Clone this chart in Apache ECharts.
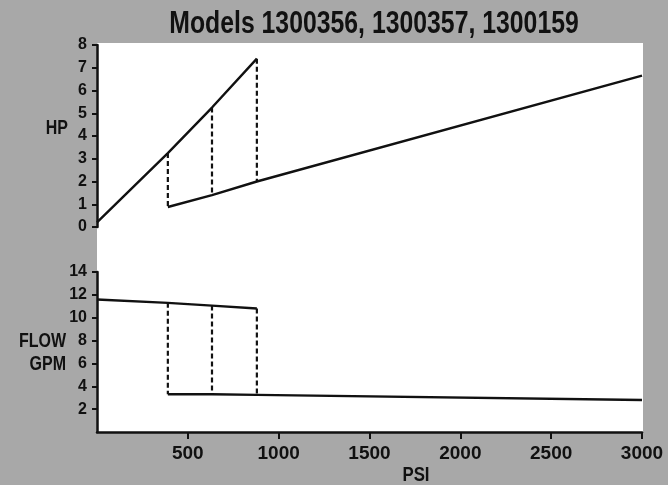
<!DOCTYPE html>
<html><head><meta charset="utf-8">
<script src="https://cdn.jsdelivr.net/npm/echarts@6/dist/echarts.min.js"></script>
<style>html,body{margin:0;padding:0;background:#a8a8a8;} #c{width:668px;height:485px;}</style>
</head><body><div id="c"></div>
<script>
const titleText = 'Models 1300356, 1300357, 1300159';
const xName = 'PSI';
const hpName = 'HP';
const flowName = 'FLOW\nGPM';
const psiMin = 0, psiMax = 3000, psiStep = 500;
const hpMin = 0, hpMax = 8, hpStep = 1;
const flowMin = 0, flowMax = 14, flowStep = 2;

const hpHighPsi = [0, 390, 633, 880];
const hpHighVal = [0.2, 3.25, 5.25, 7.4];
const hpLowPsi = [390, 633, 880, 3000];
const hpLowVal = [0.88, 1.4, 2.0, 6.65];

const flowHighPsi = [0, 390, 633, 880];
const flowHighVal = [11.6, 11.3, 11.06, 10.8];
const flowLowPsi = [390, 633, 880, 3000];
const flowLowVal = [3.3, 3.3, 3.25, 2.8];

const switchPsi = [390, 633, 880];

const FONT = "'Liberation Sans', Arial, sans-serif";
const INK = '#111111';
const NARROW = 0.8;

function pairs(xs, ys) { return xs.map((x, i) => [x, ys[i]]); }
function at(xs, ys, x) { return ys[xs.indexOf(x)]; }

const lineStyle = { color: INK, width: 2.4 };
const dashStyle = { color: INK, width: 2.2, type: [5, 3] };

const series = [
  { type: 'line', xAxisIndex: 0, yAxisIndex: 0, data: pairs(hpHighPsi, hpHighVal), showSymbol: false, lineStyle: lineStyle, silent: true },
  { type: 'line', xAxisIndex: 0, yAxisIndex: 0, data: pairs(hpLowPsi, hpLowVal), showSymbol: false, lineStyle: lineStyle, silent: true },
  { type: 'line', xAxisIndex: 1, yAxisIndex: 1, data: pairs(flowHighPsi, flowHighVal), showSymbol: false, lineStyle: lineStyle, silent: true },
  { type: 'line', xAxisIndex: 1, yAxisIndex: 1, data: pairs(flowLowPsi, flowLowVal), showSymbol: false, lineStyle: lineStyle, silent: true }
];
switchPsi.forEach(p => {
  series.push({ type: 'line', xAxisIndex: 0, yAxisIndex: 0, showSymbol: false, lineStyle: dashStyle, silent: true,
    data: [[p, at(hpHighPsi, hpHighVal, p)], [p, at(hpLowPsi, hpLowVal, p)]] });
  series.push({ type: 'line', xAxisIndex: 1, yAxisIndex: 1, showSymbol: false, lineStyle: dashStyle, silent: true,
    data: [[p, at(flowHighPsi, flowHighVal, p)], [p, at(flowLowPsi, flowLowVal, p)]] });
});

const axisLabelY = { color: INK, fontFamily: FONT, fontWeight: 'bold', fontSize: 16, margin: 10 };

const option = {
  backgroundColor: '#a8a8a8',
  animation: false,
  graphic: [
    { type: 'rect', shape: { x: 97, y: 43, width: 546, height: 390 }, style: { fill: '#ffffff' }, z: -10, silent: true },
    { type: 'text', x: 374, y: 24, scaleX: NARROW, style: { text: titleText, fill: INK, font: "bold 31px " + FONT, textAlign: 'center', textVerticalAlign: 'middle' } },
    { type: 'text', x: 68, y: 128, scaleX: NARROW, style: { text: hpName, fill: INK, font: "bold 20px " + FONT, textAlign: 'right', textVerticalAlign: 'middle' } },
    { type: 'text', x: 66, y: 353, scaleX: NARROW, style: { text: flowName, fill: INK, font: "bold 20px " + FONT, textAlign: 'right', textVerticalAlign: 'middle', lineHeight: 23 } },
    { type: 'text', x: 416, y: 475, scaleX: NARROW, style: { text: xName, fill: INK, font: "bold 21px " + FONT, textAlign: 'center', textVerticalAlign: 'middle' } }
  ],
  grid: [
    { left: 97, width: 545, top: 45, height: 182, outerBoundsMode: 'none', containLabel: false },
    { left: 97, width: 545, top: 272, height: 160, outerBoundsMode: 'none', containLabel: false }
  ],
  xAxis: [
    { gridIndex: 0, type: 'value', min: psiMin, max: psiMax, interval: psiStep, show: false },
    { gridIndex: 1, type: 'value', min: psiMin, max: psiMax, interval: psiStep,
      axisLine: { show: true, lineStyle: { color: INK, width: 2.5 } },
      axisTick: { show: true, length: 7, lineStyle: { color: INK, width: 2 } },
      splitLine: { show: false },
      axisLabel: { showMinLabel: false, color: INK, fontFamily: FONT, fontWeight: 'bold', fontSize: 19, margin: 12,
        formatter: v => String(v) } }
  ],
  yAxis: [
    { gridIndex: 0, type: 'value', min: hpMin, max: hpMax, interval: hpStep,
      axisLine: { show: true, lineStyle: { color: INK, width: 2.5 } },
      axisTick: { show: true, length: 5, lineStyle: { color: INK, width: 2 } },
      splitLine: { show: false },
      axisLabel: axisLabelY },
    { gridIndex: 1, type: 'value', min: flowMin, max: flowMax, interval: flowStep,
      axisLine: { show: true, lineStyle: { color: INK, width: 2.5 } },
      axisTick: { show: true, length: 5, lineStyle: { color: INK, width: 2 } },
      splitLine: { show: false },
      axisLabel: Object.assign({ showMinLabel: false }, axisLabelY) }
  ],
  series: series
};
const chart = echarts.init(document.getElementById('c'), null, { renderer: 'canvas' });
chart.setOption(option);
</script>
</body></html>
